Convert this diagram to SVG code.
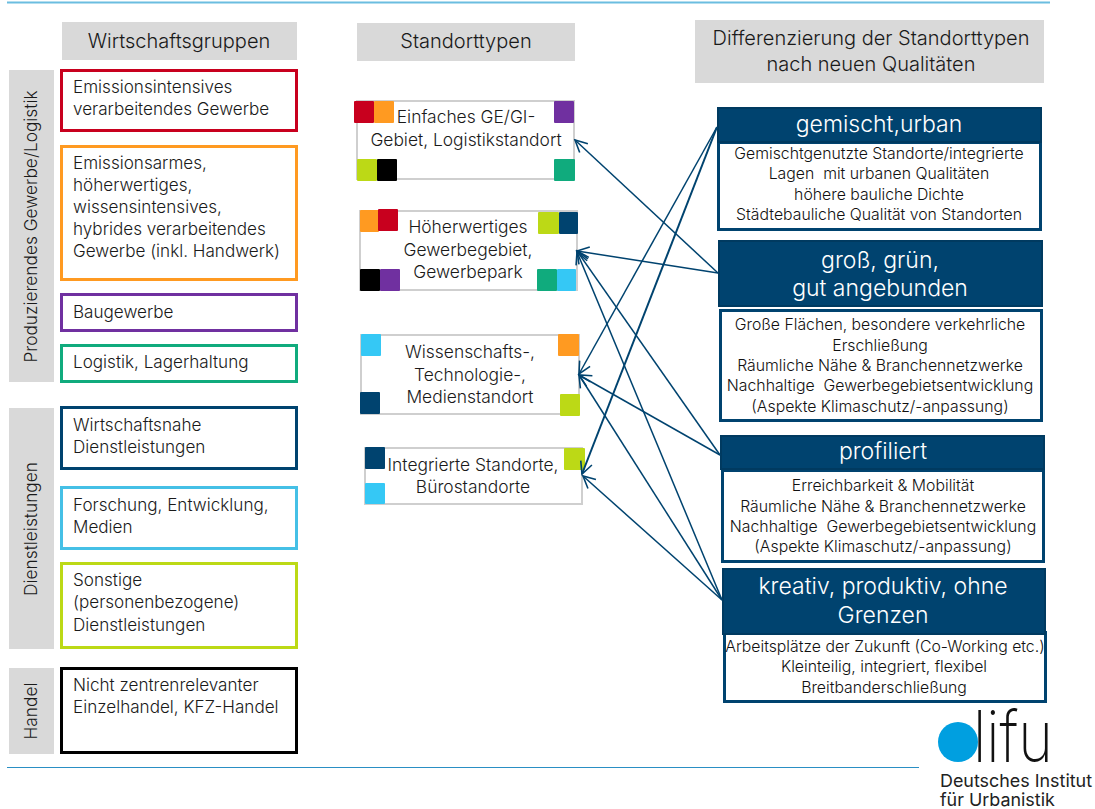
<svg xmlns="http://www.w3.org/2000/svg" width="1095" height="809" viewBox="0 0 1095 809">
<style>
text{font-family:"Inter","Liberation Sans",sans-serif;font-weight:300;fill:#1a1a1a;white-space:pre}
.l{font-size:17.1px}
.h{font-size:20px;text-anchor:middle}
.s{font-size:17.4px;text-anchor:middle}
.b{font-size:15.8px;text-anchor:middle;fill:#111}
.t{font-size:23px;text-anchor:middle;fill:#fff}
.r{font-size:17.3px;text-anchor:middle}
.g{fill:#d9d9d9}
.box{fill:#fff;stroke-width:3}
.st{fill:#fff;stroke:#cfcfcf;stroke-width:2}
.nv{fill:#00436f;stroke:#003a60;stroke-width:2}
.bd{fill:#fff;stroke:#00436f;stroke-width:3}
.c{stroke:#00436f;stroke-width:1.5;fill:none;marker-end:url(#a)}
</style>
<defs>
<marker id="a" markerUnits="userSpaceOnUse" markerWidth="16" markerHeight="16" refX="14" refY="7" orient="auto" viewBox="0 0 16 14"><path d="M2 1L14 7L2 13" fill="none" stroke="#00436f" stroke-width="1.6"/></marker>
</defs>
<rect width="1095" height="809" fill="#fff"/>
<path d="M7 2.500H1050" stroke="#6bbde0" stroke-width="2"/>
<path d="M7 767.500H919" stroke="#2a8fc4" stroke-width="1"/>

<g id="head-wirtschaft"><rect class="g" x="62" y="22" width="235" height="38"/><text class="h" x="179" y="48">Wirtschaftsgruppen</text></g>
<g id="head-standort"><rect class="g" x="357" y="23" width="218" height="38"/><text class="h" x="466" y="48">Standorttypen</text></g>
<g id="head-diff"><rect class="g" x="695" y="20" width="349" height="63"/><text class="h" x="871" y="45">Differenzierung der Standorttypen</text><text class="h" x="871" y="71">nach neuen Qualitäten</text></g>

<g id="side-prod"><rect class="g" x="9" y="70" width="45" height="312"/><text class="r" transform="translate(37 226.500) rotate(-90)">Produzierendes Gewerbe/Logistik</text></g>
<g id="side-dienst"><rect class="g" x="9" y="408" width="45" height="241"/><text class="r" transform="translate(37 529) rotate(-90)">Dienstleistungen</text></g>
<g id="side-handel"><rect class="g" x="9" y="668" width="45" height="86"/><text class="r" transform="translate(37 711) rotate(-90)">Handel</text></g>

<g id="w-emi"><rect class="box" x="61.500" y="70.500" width="235" height="60" stroke="#c8001e"/><text class="l" x="73" y="93">Emissionsintensives</text><text class="l" x="73" y="115">verarbeitendes Gewerbe</text></g>
<g id="w-arm"><rect class="box" x="61.500" y="146.500" width="235" height="133" stroke="#ff9a21"/><text class="l" x="73" y="169">Emissionsarmes,</text><text class="l" x="73" y="191">höherwertiges,</text><text class="l" x="73" y="213">wissensintensives,</text><text class="l" x="73" y="235">hybrides verarbeitendes</text><text class="l" x="73" y="257">Gewerbe (inkl. Handwerk)</text></g>
<g id="w-bau"><rect class="box" x="61.500" y="294.500" width="235" height="36" stroke="#7030a0"/><text class="l" x="73" y="318">Baugewerbe</text></g>
<g id="w-log"><rect class="box" x="61.500" y="345.500" width="235" height="36" stroke="#10ab7d"/><text class="l" x="73" y="368">Logistik, Lagerhaltung</text></g>
<g id="w-wirt"><rect class="box" x="61.500" y="407.500" width="235" height="61" stroke="#00436f"/><text class="l" x="73" y="431">Wirtschaftsnahe</text><text class="l" x="73" y="453">Dienstleistungen</text></g>
<g id="w-for"><rect class="box" x="61.500" y="487.500" width="235" height="61" stroke="#45c0e6"/><text class="l" x="73" y="511">Forschung, Entwicklung,</text><text class="l" x="73" y="533">Medien</text></g>
<g id="w-son"><rect class="box" x="61.500" y="563.500" width="235" height="84" stroke="#bcd916"/><text class="l" x="73" y="586">Sonstige</text><text class="l" x="73" y="608">(personenbezogene)</text><text class="l" x="73" y="631">Dienstleistungen</text></g>
<g id="w-han"><rect class="box" x="61.500" y="668.500" width="235" height="84" stroke="#000"/><text class="l" x="73" y="691">Nicht zentrenrelevanter</text><text class="l" x="73" y="713">Einzelhandel, KFZ-Handel</text></g>

<g id="s-einfach"><rect class="st" x="357" y="101" width="217" height="78"/>
<rect x="354" y="101" width="20" height="22" rx="1" fill="#c8001e"/><rect x="374" y="101" width="20" height="22" rx="1" fill="#ff9a21"/><rect x="554" y="101" width="20" height="22" rx="1" fill="#7030a0"/><rect x="357" y="159" width="20" height="22" rx="1" fill="#bcd916"/><rect x="377" y="159" width="20" height="22" rx="1" fill="#000"/><rect x="554" y="159" width="21" height="22" rx="1" fill="#10ab7d"/>
<text class="s" x="466" y="123">Einfaches GE/GI-</text><text class="s" x="466" y="146">Gebiet, Logistikstandort</text></g>
<g id="s-hoeher"><rect class="st" x="360" y="211" width="217" height="79"/>
<rect x="360" y="210" width="19" height="22" rx="1" fill="#ff9a21"/><rect x="378" y="209" width="20" height="22" rx="1" fill="#c8001e"/><rect x="538" y="212" width="21" height="22" rx="1" fill="#bcd916"/><rect x="559" y="212" width="19" height="22" rx="1" fill="#00436f"/><rect x="360" y="269" width="20" height="22" rx="1" fill="#000"/><rect x="380" y="269" width="20" height="22" rx="1" fill="#7030a0"/><rect x="537" y="269" width="20" height="22" rx="1" fill="#10ab7d"/><rect x="557" y="269" width="19" height="22" rx="1" fill="#35c8f5"/>
<text class="s" x="468" y="233">Höherwertiges</text><text class="s" x="468" y="256">Gewerbegebiet,</text><text class="s" x="468" y="278">Gewerbepark</text></g>
<g id="s-wiss"><rect class="st" x="361" y="335" width="218" height="79"/>
<rect x="361" y="334" width="20" height="22" rx="1" fill="#35c8f5"/><rect x="558" y="334" width="21" height="22" rx="1" fill="#ff9a21"/><rect x="360" y="392" width="20" height="22" rx="1" fill="#00436f"/><rect x="560" y="394" width="20" height="22" rx="1" fill="#bcd916"/>
<text class="s" x="470" y="358">Wissenschafts-,</text><text class="s" x="470" y="381">Technologie-,</text><text class="s" x="470" y="403">Medienstandort</text></g>
<g id="s-integ"><rect class="st" x="365" y="448" width="217" height="56"/>
<rect x="365" y="447" width="20" height="22" rx="1" fill="#00436f"/><rect x="564" y="448" width="21" height="22" rx="1" fill="#bcd916"/><rect x="365" y="483" width="20" height="21" rx="1" fill="#35c8f5"/>
<text class="s" x="473" y="471">Integrierte Standorte,</text><text class="s" x="473" y="493">Bürostandorte</text></g>

<g id="q-gemischt"><rect class="bd" x="718.500" y="142.500" width="322" height="87"/><rect class="nv" x="718" y="108" width="323" height="34"/><text class="t" x="879" y="132">gemischt,urban</text>
<text class="b" x="879" y="159">Gemischtgenutzte Standorte/integrierte</text><text class="b" x="879" y="179">Lagen  mit urbanen Qualitäten</text><text class="b" x="879" y="200">höhere bauliche Dichte</text><text class="b" x="879" y="220">Städtebauliche Qualität von Standorten</text></g>
<g id="q-gross"><rect class="bd" x="720.500" y="310.500" width="321" height="110"/><rect class="nv" x="719" y="241" width="323" height="65"/><text class="t" x="880" y="268">groß, grün,</text><text class="t" x="880" y="296">gut angebunden</text>
<text class="b" x="880" y="330">Große Flächen, besondere verkehrliche</text><text class="b" x="880" y="351">Erschließung</text><text class="b" x="880" y="371">Räumliche Nähe &amp; Branchennetzwerke</text><text class="b" x="880" y="391">Nachhaltige  Gewerbegebietsentwicklung</text><text class="b" x="880" y="412">(Aspekte Klimaschutz/-anpassung)</text></g>
<g id="q-profiliert"><rect class="bd" x="722.500" y="470.500" width="321" height="91"/><rect class="nv" x="721" y="436" width="323" height="33"/><text class="t" x="883" y="459">profiliert</text>
<text class="b" x="883" y="491">Erreichbarkeit &amp; Mobilität</text><text class="b" x="883" y="512">Räumliche Nähe &amp; Branchennetzwerke</text><text class="b" x="883" y="532">Nachhaltige  Gewerbegebietsentwicklung</text><text class="b" x="883" y="552">(Aspekte Klimaschutz/-anpassung)</text></g>
<g id="q-kreativ"><rect class="bd" x="724.500" y="632.500" width="321" height="69"/><rect class="nv" x="723" y="569" width="322" height="65"/><text class="t" x="883" y="594">kreativ, produktiv, ohne</text><text class="t" x="883" y="623">Grenzen</text>
<text class="b" x="885" y="652">Arbeitsplätze der Zukunft (Co-Working etc.)</text><text class="b" x="884" y="672">Kleinteilig, integriert, flexibel</text><text class="b" x="884" y="693">Breitbanderschließung</text></g>

<g id="connectors">
<path class="c" d="M717 127L579 374"/>
<path class="c" d="M717 127L582 474" style="stroke-width:2"/>
<path class="c" d="M718 273L575 140"/>
<path class="c" d="M718 273L577 251"/>
<path class="c" d="M720 455L577 251"/>
<path class="c" d="M720 455L579 375"/>
<path class="c" d="M722 600L577 252"/>
<path class="c" d="M722 600L579 375"/>
<path class="c" d="M722 600L583 476"/>
</g>

<g id="logo"><circle cx="958" cy="742" r="20" fill="#009fe0"/><text x="973" y="762" textLength="80" lengthAdjust="spacingAndGlyphs" style="font-size:72px;font-weight:200;fill:#111">lifu</text>
<text x="940" y="787" style="font-size:17.900px;font-weight:400;fill:#222">Deutsches Institut</text><text x="940" y="806" style="font-size:17.900px;font-weight:400;fill:#222">für Urbanistik</text></g>
</svg>
